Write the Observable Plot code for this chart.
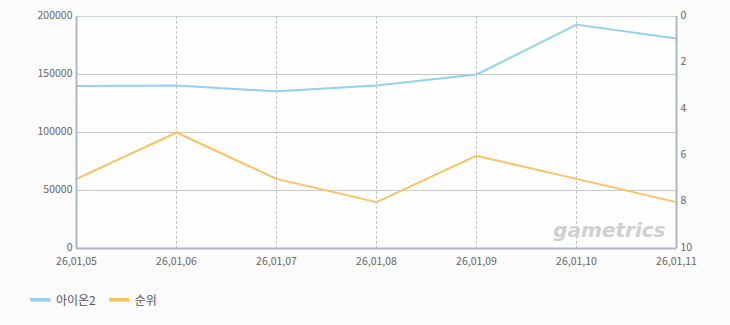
<!DOCTYPE html>
<html>
<head>
<meta charset="utf-8">
<script src="https://cdn.jsdelivr.net/npm/d3@7"></script>
<script src="https://cdn.jsdelivr.net/npm/@observablehq/plot@0.6"></script>
<style>
  html, body { margin: 0; padding: 0; background: #fcfcfc; }
  body { width: 730px; height: 325px; overflow: hidden; font-family: "Noto Sans CJK KR", "DejaVu Sans", sans-serif; }
  #legend { position: absolute; left: 30px; top: 291px; display: flex; align-items: center; font-size: 12px; color: #555; }
  .item { display: flex; align-items: center; margin-right: 13px; }
  .sw { width: 20px; height: 3px; margin-right: 6px; box-shadow: 1px 1px 0 #ddd; }
</style>
</head>
<body>
<div id="chart"></div>
<div id="legend"></div>
<script>
const dates = ["26,01,05", "26,01,06", "26,01,07", "26,01,08", "26,01,09", "26,01,10", "26,01,11"];
const aionValues = [140000, 140500, 135500, 140500, 150000, 193000, 181000];
const rankValues = [7, 5, 7, 8, 6, 7, 8];
const leftTicks = [0, 50000, 100000, 150000, 200000];
const rightTicks = [0, 2, 4, 6, 8, 10];
const seriesNames = ["아이온2", "순위"];
const colors = ["#92d1f2", "#fcc262"];

const yMax = 200000, rankMax = 10;
const rankToY = r => yMax - r / rankMax * yMax;

const aion = dates.map((d, i) => ({date: d, value: aionValues[i]}));
const rank = dates.map((d, i) => ({date: d, value: rankToY(rankValues[i])}));

const chart = Plot.plot({
  width: 730,
  height: 275,
  marginLeft: 76,
  marginRight: 54,
  marginTop: 16,
  marginBottom: 27,
  style: {fontFamily: "'Noto Sans CJK KR', 'DejaVu Sans', sans-serif", fontSize: "10.5px", background: "transparent", color: "#666"},
  x: {type: "point", domain: dates, padding: 0},
  y: {domain: [0, yMax]},
  marks: [
    Plot.frame({fill: "#fefefe", stroke: "#c8d2de", strokeWidth: 1}),
    Plot.ruleY([50000, 100000, 150000], {stroke: "#c8c8c8", strokeWidth: 1}),
    Plot.ruleX(dates.slice(1, -1), {stroke: "#c4c4c4", strokeDasharray: "3,2", strokeWidth: 1}),
    Plot.text(["gametrics"], {frameAnchor: "bottom-right", dx: -11, dy: -12, fontSize: 20, fontStyle: "italic", fontWeight: "bold", fill: "#d0d0d0", fontFamily: "DejaVu Sans", letterSpacing: "-0.5px"}),
    Plot.line(aion, {x: "date", y: "value", stroke: colors[0], strokeWidth: 2}),
    Plot.line(rank, {x: "date", y: "value", stroke: colors[1], strokeWidth: 2}),
    Plot.ruleX([dates[0], dates[dates.length - 1]], {stroke: "#a9b9cc", strokeWidth: 2}),
    Plot.ruleY([0], {stroke: "#a9b9cc", strokeWidth: 2}),
    Plot.axisY({ticks: leftTicks, tickSize: 0, tickPadding: 4, tickFormat: d => String(d), label: null, fill: "#666", dy: -1}),
    Plot.axisY({anchor: "right", ticks: rightTicks.map(rankToY), tickSize: 0, tickPadding: 4, tickFormat: d => String(Math.round((yMax - d) / yMax * rankMax)), label: null, fill: "#666", dy: -1}),
    Plot.axisX({tickSize: 0, tickPadding: 9, label: null, fill: "#666"})
  ]
});
document.getElementById("chart").appendChild(chart);

const legend = document.getElementById("legend");
seriesNames.forEach((name, i) => {
  const item = document.createElement("div");
  item.className = "item";
  const sw = document.createElement("span");
  sw.className = "sw";
  sw.style.background = colors[i];
  const label = document.createElement("span");
  label.textContent = name;
  item.appendChild(sw);
  item.appendChild(label);
  legend.appendChild(item);
});
</script>
</body>
</html>
